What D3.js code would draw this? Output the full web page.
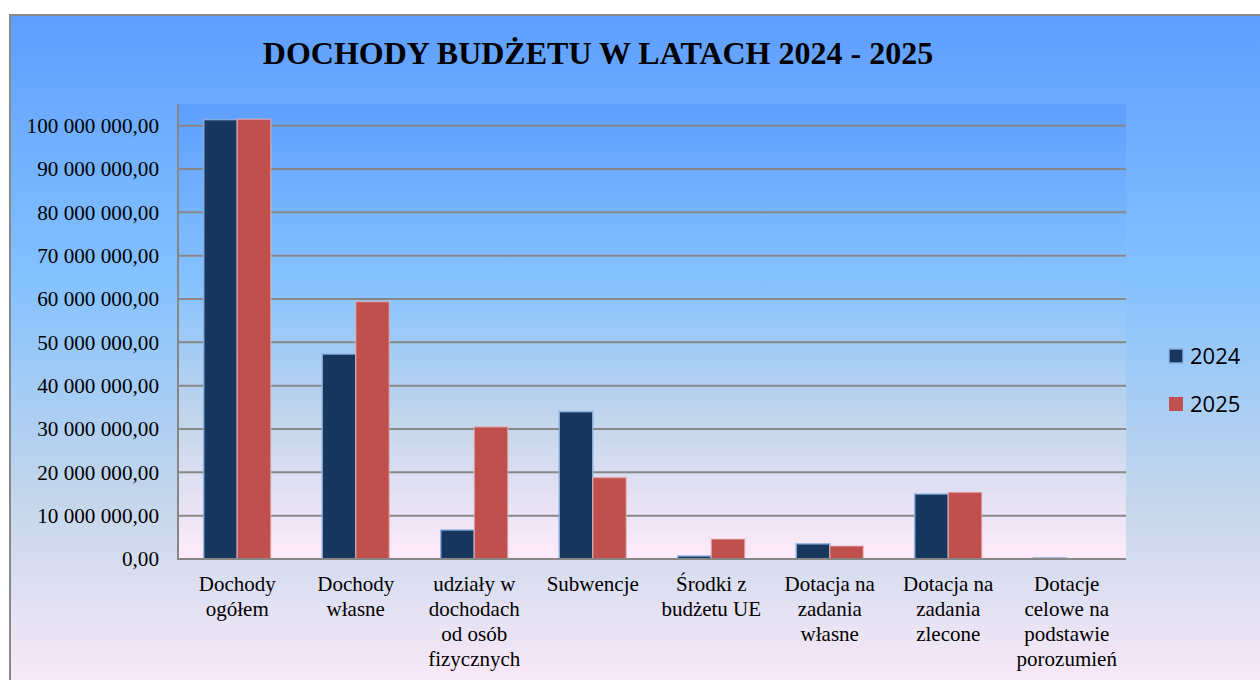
<!DOCTYPE html>
<html><head><meta charset="utf-8">
<script src="https://cdn.jsdelivr.net/npm/d3@7"></script>
<style>html,body{margin:0;padding:0;background:#fff;overflow:hidden}</style>
</head><body>
<svg id="c" width="1260" height="680"></svg>
<script>
const categories = [
  ["Dochody","ogółem"],
  ["Dochody","własne"],
  ["udziały w","dochodach","od osób","fizycznych"],
  ["Subwencje"],
  ["Środki z","budżetu UE"],
  ["Dotacja na","zadania","własne"],
  ["Dotacja na","zadania","zlecone"],
  ["Dotacje","celowe na","podstawie","porozumień"]
];
const seriesNames = ["2024","2025"];
const values2024 = [101400000, 47300000, 6700000, 34000000, 700000, 3500000, 15000000, 250000];
const values2025 = [101500000, 59400000, 30500000, 18800000, 4600000, 3000000, 15400000, 50000];
const yTicks = [0,10000000,20000000,30000000,40000000,50000000,60000000,70000000,80000000,90000000,100000000];
const title = "DOCHODY BUDŻETU W LATACH 2024 - 2025";
const colors = ["#17375e","#c0504d"];
const strokes = ["#8db3e2","#e6b9b8"];

const svg = d3.select("#c");
const defs = svg.append("defs");
function grad(id){
  const g = defs.append("linearGradient").attr("id",id).attr("x1",0).attr("y1",0).attr("x2",0).attr("y2",1);
  [[0,"#5e9eff"],[0.39,"#85c2ff"],[0.70,"#c4d6eb"],[1,"#ffebfa"]].forEach(s=>g.append("stop").attr("offset",s[0]).attr("stop-color",s[1]));
}
grad("gOuter"); grad("gPlot");

// outer frame
svg.append("rect").attr("x",10).attr("y",15).attr("width",1270).attr("height",690)
  .attr("fill","url(#gOuter)").attr("stroke","#898989").attr("stroke-width",2);

const L=178, R=1126, T=104, B=559;
svg.append("rect").attr("x",L).attr("y",T).attr("width",R-L).attr("height",B-T).attr("fill","url(#gPlot)");

const x = d3.scaleBand().domain(d3.range(categories.length)).range([L,R]).padding(0);
const y = d3.scaleLinear().domain([0,105000000]).range([B,T]);

// gridlines
svg.append("g").selectAll("line").data(yTicks.slice(1)).join("line")
  .attr("x1",L).attr("x2",R).attr("y1",d=>y(d)).attr("y2",d=>y(d))
  .attr("stroke","#878787").attr("stroke-width",2);

// y axis
const fmt = v => d3.format(",.2f")(v).replace(/,/g," ").replace(".",",");
const yAxis = d3.axisLeft(y).tickValues(yTicks).tickFormat(fmt).tickSize(0).tickPadding(19);
const ga = svg.append("g").attr("transform",`translate(${L},0)`).call(yAxis);
ga.select(".domain").remove();
ga.selectAll("text").attr("font-family","'Liberation Serif',serif").attr("font-size",21.2).attr("fill","#000");

// bars
const bw = x.bandwidth()*0.283;
const series = [values2024, values2025];
series.forEach((vals,si)=>{
  svg.append("g").selectAll("rect").data(vals).join("rect")
    .attr("x",(d,i)=>x(i)+x.bandwidth()/2 - bw + si*bw)
    .attr("y",d=>y(d))
    .attr("width",bw)
    .attr("height",d=>B-y(d))
    .attr("fill",colors[si])
    .attr("stroke",strokes[si]).attr("stroke-opacity",si===0?0.9:0.6).attr("stroke-width",1.5);
});

// axes lines
svg.append("line").attr("x1",L).attr("x2",L).attr("y1",T).attr("y2",B+1).attr("stroke","#878787").attr("stroke-width",2);
svg.append("line").attr("x1",L-1).attr("x2",R).attr("y1",B).attr("y2",B).attr("stroke","#878787").attr("stroke-width",2);

// x labels
const xl = svg.append("g");
categories.forEach((lines,i)=>{
  const cx = x(i)+x.bandwidth()/2;
  const t = xl.append("text").attr("x",cx).attr("y",591)
    .attr("text-anchor","middle").attr("font-family","'Liberation Serif',serif").attr("font-size",21).attr("fill","#000");
  lines.forEach((ln,j)=>t.append("tspan").attr("x",cx).attr("y",591+j*25).text(ln));
});

// title
svg.append("text").attr("x",598).attr("y",64).attr("text-anchor","middle")
  .attr("font-family","'Liberation Serif',serif").attr("font-weight","bold").attr("font-size",32).attr("fill","#000")
  .text(title);

// legend
const lg = svg.append("g");
seriesNames.forEach((n,i)=>{
  const cy = 356 + i*48;
  lg.append("rect").attr("x",1169).attr("y",cy-7).attr("width",14).attr("height",14)
    .attr("fill",colors[i]).attr("stroke",strokes[i]).attr("stroke-opacity",i===0?0.9:0).attr("stroke-width",1.5);
  lg.append("text").attr("x",1190).attr("y",cy+8).attr("font-family","'Open Sans','Liberation Sans',sans-serif")
    .attr("font-size",22).attr("fill","#000").text(n);
});
</script>
</body></html>
